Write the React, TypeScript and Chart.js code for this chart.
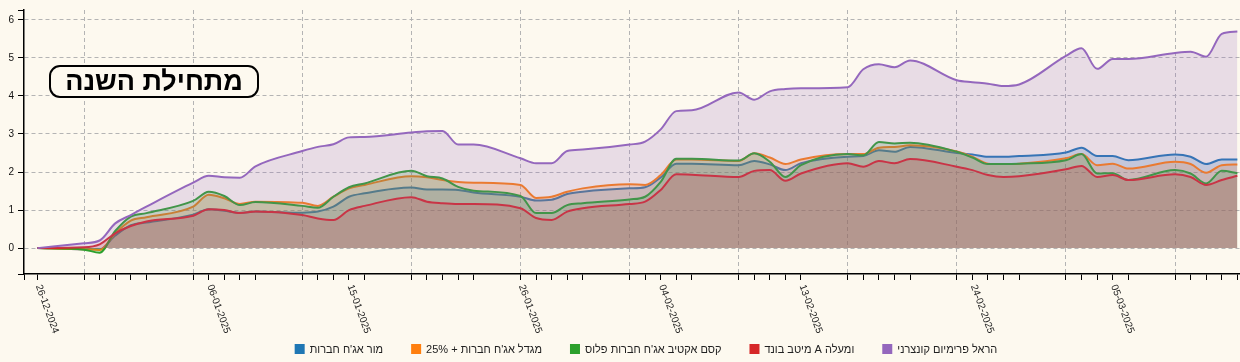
import React, { useEffect, useRef } from 'react';
import { Chart, registerables } from 'chart.js';

Chart.register(...registerables);

// ---- data ----
const tradingDays: string[] = [
  '2024-12-26', '2024-12-29', '2024-12-30', '2024-12-31',
  '2025-01-01', '2025-01-02', '2025-01-05', '2025-01-06', '2025-01-07', '2025-01-08', '2025-01-09',
  '2025-01-12', '2025-01-13', '2025-01-14', '2025-01-15', '2025-01-16',
  '2025-01-19', '2025-01-20', '2025-01-21', '2025-01-22', '2025-01-23',
  '2025-01-26', '2025-01-27', '2025-01-28', '2025-01-29', '2025-01-30',
  '2025-02-02', '2025-02-03', '2025-02-04', '2025-02-05', '2025-02-06',
  '2025-02-09', '2025-02-10', '2025-02-11', '2025-02-12', '2025-02-13',
  '2025-02-16', '2025-02-17', '2025-02-18', '2025-02-19', '2025-02-20',
  '2025-02-23', '2025-02-24', '2025-02-25', '2025-02-26', '2025-02-27',
  '2025-03-02', '2025-03-03', '2025-03-04', '2025-03-05', '2025-03-06',
  '2025-03-09', '2025-03-10', '2025-03-11', '2025-03-12', '2025-03-13',
];

const xTickLabels: string[] = [
  '26-12-2024', '06-01-2025', '15-01-2025', '26-01-2025',
  '04-02-2025', '13-02-2025', '24-02-2025', '05-03-2025',
];

const yTickValues: number[] = [0, 1, 2, 3, 4, 5, 6];

const seriesNames: string[] = [
  "מור אג'ח חברות",
  "מגדל אג'ח חברות + 25%",
  "קסם אקטיב אג'ח חברות פלוס",
  'מיטב בונד A ומעלה',
  'הראל פרימיום קונצרני',
];

const seriesColors: string[] = ['#1f77b4', '#ff7f0e', '#2ca02c', '#d62728', '#9467bd'];

const morValues: number[] = [
  0, -0.03, -0.03, 0.33, 0.6, 0.67, 0.88, 1.02, 0.98, 0.93, 0.96,
  0.93, 0.96, 1.09, 1.35, 1.44, 1.59, 1.54, 1.54, 1.53, 1.46,
  1.35, 1.25, 1.27, 1.42, 1.48, 1.57, 1.6, 1.86, 2.22, 2.22,
  2.18, 2.29, 2.2, 2.05, 2.23, 2.4, 2.42, 2.57, 2.53, 2.66,
  2.5, 2.46, 2.4, 2.4, 2.42, 2.51, 2.64, 2.42, 2.42, 2.31,
  2.46, 2.4, 2.21, 2.33, 2.33,
];

const migdalValues: number[] = [
  0, -0.03, -0.05, 0.39, 0.72, 0.81, 1.09, 1.4, 1.31, 1.16, 1.22,
  1.19, 1.11, 1.35, 1.57, 1.66, 1.89, 1.86, 1.79, 1.74, 1.72,
  1.66, 1.32, 1.35, 1.48, 1.57, 1.68, 1.66, 1.92, 2.33, 2.33,
  2.29, 2.49, 2.38, 2.21, 2.33, 2.47, 2.47, 2.64, 2.66, 2.7,
  2.54, 2.4, 2.22, 2.21, 2.22, 2.36, 2.47, 2.18, 2.22, 2.09,
  2.27, 2.21, 1.98, 2.18, 2.2,
];

const kesemValues: number[] = [
  0, -0.04, -0.12, 0.45, 0.83, 0.92, 1.24, 1.48, 1.37, 1.13, 1.21,
  1.11, 1.06, 1.35, 1.6, 1.7, 2.03, 1.89, 1.83, 1.61, 1.51,
  1.37, 0.92, 0.92, 1.13, 1.18, 1.28, 1.35, 1.74, 2.35, 2.35,
  2.3, 2.49, 2.27, 1.87, 2.18, 2.47, 2.44, 2.79, 2.75, 2.77,
  2.53, 2.38, 2.21, 2.21, 2.22, 2.31, 2.47, 1.96, 1.97, 1.79,
  2.05, 1.96, 1.7, 2.03, 1.97,
];

const meitavValues: number[] = [
  0, 0.02, 0.1, 0.39, 0.58, 0.7, 0.85, 1.02, 1.0, 0.92, 0.96,
  0.87, 0.78, 0.74, 1.0, 1.11, 1.34, 1.22, 1.18, 1.16, 1.16,
  1.05, 0.79, 0.74, 0.96, 1.05, 1.16, 1.22, 1.53, 1.94, 1.93,
  1.87, 2.03, 2.05, 1.77, 1.96, 2.23, 2.14, 2.29, 2.23, 2.34,
  2.14, 2.05, 1.92, 1.87, 1.89, 2.07, 2.16, 1.87, 1.92, 1.79,
  1.94, 1.87, 1.66, 1.79, 1.9,
];

const harelValues: number[] = [
  0, 0.13, 0.2, 0.65, 0.87, 1.09, 1.72, 1.9, 1.86, 1.85, 2.15,
  2.55, 2.66, 2.73, 2.91, 2.92, 3.04, 3.07, 3.08, 2.72, 2.72,
  2.36, 2.23, 2.23, 2.55, 2.59, 2.72, 2.8, 3.12, 3.6, 3.62,
  4.09, 3.9, 4.12, 4.18, 4.2, 4.23, 4.7, 4.83, 4.75, 4.93,
  4.41, 4.36, 4.32, 4.26, 4.3, 5.05, 5.25, 4.71, 4.97, 4.97,
  5.13, 5.16, 5.03, 5.63, 5.69,
];

const seriesValues: number[][] = [morValues, migdalValues, kesemValues, meitavValues, harelValues];

const titleText = 'מתחילת השנה';

// ---- styling ----
const BG = '#fdf9ef';
const FONT = '"Liberation Sans", Arial, sans-serif';
const GRID = '#b4b4b4';

const dayOffset = (iso: string) =>
  (Date.parse(iso) - Date.parse(tradingDays[0])) / 86400000;

const hexToRgba = (hex: string, a: number) => {
  const n = parseInt(hex.slice(1), 16);
  return `rgba(${(n >> 16) & 255},${(n >> 8) & 255},${n & 255},${a})`;
};

const X_MIN = -0.853;
const X_MAX = 77.17;
const Y_MIN = -0.68;
const Y_MAX = 6.257;

const decorPlugin = {
  id: 'decor',
  beforeDraw(chart: any) {
    const { ctx, width, height } = chart;
    ctx.save();
    ctx.fillStyle = BG;
    ctx.fillRect(0, 0, width, height);
    ctx.restore();
  },
  afterDraw(chart: any) {
    const { ctx, chartArea } = chart;
    const xs = chart.scales.x;

    // rotated x tick labels
    ctx.save();
    ctx.font = `10px ${FONT}`;
    ctx.fillStyle = '#222';
    ctx.textAlign = 'left';
    ctx.textBaseline = 'middle';
    xTickLabels.forEach((lbl) => {
      const [d, m, y] = lbl.split('-');
      const px = xs.getPixelForValue(dayOffset(`${y}-${m}-${d}`));
      ctx.save();
      ctx.translate(px + 1, chartArea.bottom + 11);
      ctx.rotate((70 * Math.PI) / 180);
      ctx.fillText(lbl, 0, 0);
      ctx.restore();
    });
    ctx.restore();

    // title box
    ctx.save();
    const bx = 50, by = 66, bw = 208, bh = 31, r = 10;
    ctx.beginPath();
    ctx.moveTo(bx + r, by);
    ctx.lineTo(bx + bw - r, by);
    ctx.arcTo(bx + bw, by, bx + bw, by + r, r);
    ctx.lineTo(bx + bw, by + bh - r);
    ctx.arcTo(bx + bw, by + bh, bx + bw - r, by + bh, r);
    ctx.lineTo(bx + r, by + bh);
    ctx.arcTo(bx, by + bh, bx, by + bh - r, r);
    ctx.lineTo(bx, by + r);
    ctx.arcTo(bx, by, bx + r, by, r);
    ctx.closePath();
    ctx.fillStyle = BG;
    ctx.fill();
    ctx.lineWidth = 2;
    ctx.strokeStyle = '#000';
    ctx.stroke();
    ctx.fillStyle = '#000';
    ctx.font = `bold 27px ${FONT}`;
    ctx.direction = 'rtl';
    ctx.textAlign = 'center';
    ctx.textBaseline = 'middle';
    ctx.fillText(titleText, bx + bw / 2, by + bh / 2 + 1);
    ctx.restore();

    // legend (rendered with left-to-right base direction, as in the source)
    ctx.save();
    ctx.font = `11px ${FONT}`;
    ctx.direction = 'ltr';
    ctx.textAlign = 'left';
    ctx.textBaseline = 'middle';
    const box = 10, gap = 5, itemGap = 28;
    const widths = seriesNames.map((t) => ctx.measureText(t).width);
    const total =
      widths.reduce((a, w) => a + box + gap + w, 0) + itemGap * (seriesNames.length - 1);
    let x = 646 - total / 2;
    const cy = 349;
    seriesNames.forEach((t, i) => {
      ctx.fillStyle = seriesColors[i];
      ctx.fillRect(x, cy - box / 2, box, box);
      ctx.fillStyle = '#222';
      ctx.fillText(t, x + box + gap, cy + 0.5);
      x += box + gap + widths[i] + itemGap;
    });
    ctx.restore();
  },
};

export default function App() {
  const canvasRef = useRef<HTMLCanvasElement | null>(null);

  useEffect(() => {
    document.body.style.margin = '0';
    const canvas = canvasRef.current;
    if (!canvas) return;

    const datasets = seriesValues.map((vals, i) => ({
      label: seriesNames[i],
      data: tradingDays.map((d, j) => ({ x: dayOffset(d), y: vals[j] })),
      borderColor: seriesColors[i],
      backgroundColor: hexToRgba(seriesColors[i], 0.2),
      borderWidth: 2,
      pointRadius: 0,
      pointHoverRadius: 0,
      cubicInterpolationMode: 'monotone' as const,
      fill: 'origin',
      order: seriesValues.length - i,
    }));

    const chart = new Chart(canvas, {
      type: 'line',
      data: { datasets },
      plugins: [decorPlugin],
      options: {
        animation: false,
        responsive: false,
        devicePixelRatio: 1,
        layout: { padding: { top: 9, right: 0, bottom: 0, left: 0 } },
        plugins: {
          legend: { display: false },
          tooltip: { enabled: false },
          filler: { propagate: false },
        },
        scales: {
          x: {
            type: 'linear',
            min: X_MIN,
            max: X_MAX,
            afterBuildTicks: (scale: any) => {
              scale.ticks = [X_MIN, ...tradingDays.map(dayOffset)].map((v) => ({ value: v }));
            },
            afterFit: (scale: any) => {
              scale.height = 88;
            },
            ticks: { display: false },
            grid: {
              drawOnChartArea: true,
              drawTicks: true,
              tickLength: 6,
              tickColor: '#000',
              lineWidth: 1,
              color: (c: any) => {
                const v = c.tick ? c.tick.value : NaN;
                const idx = tradingDays.findIndex((d) => dayOffset(d) === v);
                if (idx < 0) return 'rgba(0,0,0,0)';
                return new Date(tradingDays[idx]).getUTCDay() === 0 ? GRID : 'rgba(0,0,0,0)';
              },
            },
            border: { display: true, color: '#000', width: 1.5, dash: [4, 3] },
          },
          y: {
            type: 'linear',
            min: Y_MIN,
            max: Y_MAX,
            afterBuildTicks: (scale: any) => {
              scale.ticks = [Y_MIN, ...yTickValues, Y_MAX].map((v) => ({ value: v }));
            },
            afterFit: (scale: any) => {
              scale.width = 24;
            },
            ticks: {
              display: true,
              padding: 4,
              color: '#111',
              font: { size: 10, family: FONT },
              callback: (v: any) => (yTickValues.includes(v) ? String(v) : ''),
            },
            grid: {
              drawOnChartArea: true,
              drawTicks: true,
              tickLength: 6,
              tickColor: '#000',
              lineWidth: 1,
              color: (c: any) =>
                c.tick && yTickValues.includes(c.tick.value) ? GRID : 'rgba(0,0,0,0)',
            },
            border: { display: true, color: '#000', width: 1.5, dash: [4, 3] },
          },
        },
      },
    });

    return () => chart.destroy();
  }, []);

  return (
    <div
      style={{
        position: 'absolute',
        left: 0,
        top: 0,
        width: 1240,
        height: 362,
        background: BG,
      }}
    >
      <canvas ref={canvasRef} width={1240} height={362} style={{ width: 1240, height: 362 }} />
    </div>
  );
}
